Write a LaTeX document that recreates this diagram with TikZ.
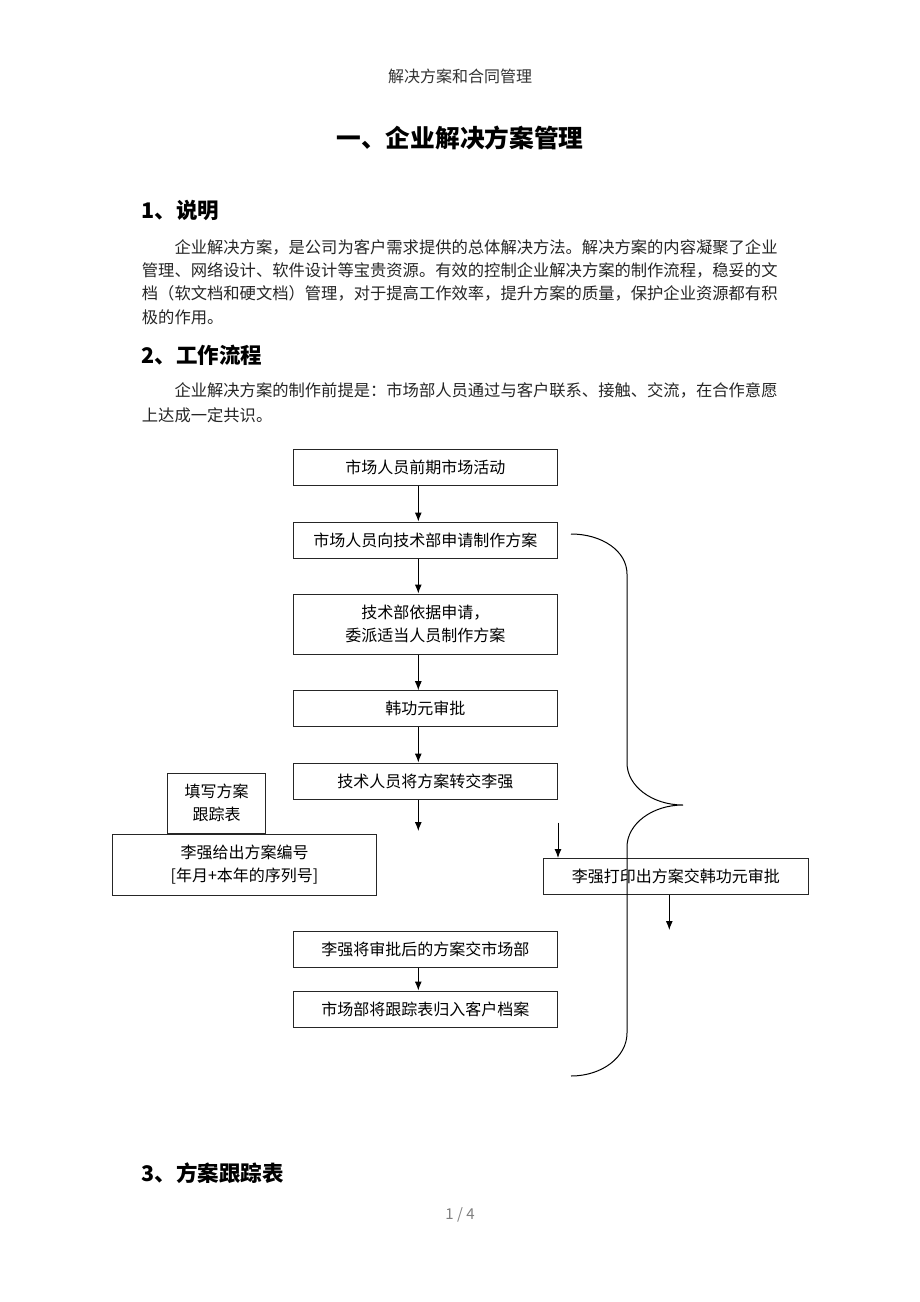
\documentclass[tikz,border=0pt]{standalone}
\usepackage{fontspec}
\setmainfont{Noto Sans CJK SC}
\usetikzlibrary{arrows.meta}
\tikzset{
    flowbox/.style={draw=black!85, line width=1pt, minimum width=264pt, minimum height=36pt,
        inner sep=0pt, align=center, font=\fontsize{16}{23}\selectfont},
    bodyline/.style={anchor=west, inner sep=0pt, text=black!85, font=\fontsize{16.3}{20}\selectfont},
    heading/.style={anchor=west, inner sep=0pt, font=\fontsize{21.5}{26}\selectfont\bfseries},
    flowarrow/.style={-{Latex[length=9pt,width=7pt]}, line width=1pt}}

\begin{document}
\begin{tikzpicture}[x=1pt, y=-1pt]
    \useasboundingbox[fill=white] (0,0) rectangle (920,1302);

    % page text
    \node[text=black!80, font=\fontsize{16}{20}\selectfont] (kopf) at (460,76.7) {解决方案和合同管理};
    \node[font=\fontsize{24.7}{30}\selectfont\bfseries] (titel) at (460,138.3) {一、企业解决方案管理};
    \node[heading] (shuoming) at (141.7,210) {1、说明};
    \node[bodyline] (s1) at (174.3,247) {企业解决方案，是公司为客户需求提供的总体解决方法。解决方案的内容凝聚了企业};
    \node[bodyline] (s2) at (141.7,270) {管理、网络设计、软件设计等宝贵资源。有效的控制企业解决方案的制作流程，稳妥的文};
    \node[bodyline] (s3) at (141.7,293.5) {档（软文档和硬文档）管理，对于提高工作效率，提升方案的质量，保护企业资源都有积};
    \node[bodyline] (s4) at (141.7,317) {极的作用。};
    \node[heading] (liucheng) at (141.7,355) {2、工作流程};
    \node[bodyline] (l1) at (174.3,390) {企业解决方案的制作前提是：市场部人员通过与客户联系、接触、交流，在合作意愿};
    \node[bodyline] (l2) at (141.7,415) {上达成一定共识。};
    \node[heading] (genzongbiao) at (141.7,1173) {3、方案跟踪表};
    \node[text=black!50, font=\fontsize{15}{18}\selectfont] (seite) at (460,1215) {1 / 4};

    % flow chart
    \coordinate (axis) at (418.3,0);
    \node[flowbox] (qianqi) at (425.3,467.5) {市场人员前期市场活动};
    \node[flowbox] (shenqing) at (425.3,540) {市场人员向技术部申请制作方案};
    \node[flowbox, minimum height=60pt] (weipai) at (425.3,624) {技术部依据申请，\\委派适当人员制作方案};
    \node[flowbox] (shenpi) at (425.3,708.7) {韩功元审批};
    \node[flowbox] (zhuanjiao) at (425.3,781) {技术人员将方案转交李强};
    \node[flowbox, minimum height=60.7pt] (bianhao) at (244.5,864.7) {李强给出方案编号\\{[}年月+本年的序列号{]}};
    \node[flowbox, minimum width=97.6pt, minimum height=60.3pt, anchor=south] (tianxie) at (bianhao.north -| 216.5,0) {填写方案\\跟踪表};
    \node[flowbox, minimum width=265pt] (dayin) at (675.8,876.5) {李强打印出方案交韩功元审批};
    \node[flowbox] (shichang) at (425.3,949) {李强将审批后的方案交市场部};
    \node[flowbox] (guidang) at (425.3,1009) {市场部将跟踪表归入客户档案};

    \coordinate (zhuanjiaoend) at (418.3,831);
    \coordinate (dayinin) at (558,822.7);
    \coordinate (dayinout) at (669.3,930);

    \draw[flowarrow] (qianqi.south -| axis) -- (shenqing.north -| axis);
    \draw[flowarrow] (shenqing.south -| axis) -- (weipai.north -| axis);
    \draw[flowarrow] (weipai.south -| axis) -- (shenpi.north -| axis);
    \draw[flowarrow] (shenpi.south -| axis) -- (zhuanjiao.north -| axis);
    \draw[flowarrow] (zhuanjiao.south -| axis) -- (zhuanjiaoend);
    \draw[flowarrow] (dayinin) -- (dayinin |- dayin.north);
    \draw[flowarrow] (dayinout |- dayin.south) -- (dayinout);
    \draw[flowarrow] (shichang.south -| axis) -- (guidang.north -| axis);

    % brace
    \draw[line width=1pt] (571,534) .. controls (602,534) and (627,551) .. (627,574) -- (627,763)
        .. controls (627,786) and (652,805) .. (683,805)
        .. controls (652,805) and (627,824) .. (627,847) -- (627,1033)
        .. controls (627,1057) and (602,1076) .. (571,1076);
\end{tikzpicture}
\end{document}
